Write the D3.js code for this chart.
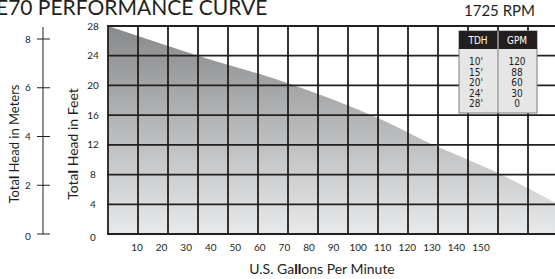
<!DOCTYPE html>
<html>
<head>
<meta charset="utf-8">
<script src="https://cdn.jsdelivr.net/npm/d3@7"></script>
<style>
  body { margin: 0; background: #fff; }
  svg { display: block; font-family: Lato, "Open Sans", sans-serif; }
</style>
</head>
<body>
<div id="chart"></div>
<script>
// curve (GPM -> feet of head)
var curveGpm  = [0, 30, 60, 90, 110, 120, 130, 150];
var curveHead = [28, 24, 20.3, 15.6, 11.7, 10, 8.2, 4.0];

// table in the corner
var tdh = ["10'", "15'", "20'", "24'", "28'"];
var gpm = ["120", "88", "60", "30", "0"];

var feetTicks = [0, 4, 8, 12, 16, 20, 24, 28];
var meterTicks = [0, 2, 4, 6, 8];
var gpmLabels = [10, 20, 30, 40, 50, 60, 70, 80, 90, 100, 110, 120, 130, 140, 150];
var gridGpm = d3.range(0, 151, 10);

var w = 555, h = 279;

var svg = d3.select("#chart").append("svg")
  .attr("width", w)
  .attr("height", h);

var x = d3.scaleLinear().domain([0, 150]).range([108, 558]);
var y = d3.scaleLinear().domain([0, 28]).range([234, 26]);
// the printed gpm labels sit on their own, tighter spacing
var xLab = d3.scaleLinear().domain([10, 150]).range([137, 481]);
// meters share the feet scale
var yM = function(m) { return y(m * 3.2808); };

var defs = svg.append("defs");
var grad = defs.append("linearGradient")
  .attr("id", "fillGrad")
  .attr("x1", 0).attr("y1", 0).attr("x2", 0).attr("y2", 1);
grad.append("stop").attr("offset", "0%").attr("stop-color", "#88898b");
grad.append("stop").attr("offset", "100%").attr("stop-color", "#e8e9ea");

var pts = curveGpm.map(function(d, i) { return [d, curveHead[i]]; });

var area = d3.area()
  .x(function(d) { return x(d[0]); })
  .y0(y(0))
  .y1(function(d) { return y(d[1]); })
  .curve(d3.curveMonotoneX);

svg.append("path")
  .datum(pts)
  .attr("d", area)
  .attr("fill", "url(#fillGrad)");

//grid
svg.append("g").selectAll("line")
  .data(gridGpm)
  .enter()
  .append("line")
  .attr("x1", function(d) { return x(d); })
  .attr("x2", function(d) { return x(d); })
  .attr("y1", y(28))
  .attr("y2", y(0))
  .attr("stroke", "#231f20")
  .attr("stroke-width", 1.8);

svg.append("g").selectAll("line")
  .data(feetTicks)
  .enter()
  .append("line")
  .attr("x1", x(0) - 0.9)
  .attr("x2", x(150))
  .attr("y1", function(d) { return y(d); })
  .attr("y2", function(d) { return y(d); })
  .attr("stroke", "#231f20")
  .attr("stroke-width", 1.8);

// feet labels
svg.append("g").selectAll("text")
  .data(feetTicks)
  .enter()
  .append("text")
  .attr("x", 93)
  .attr("y", function(d) { return d === 0 ? y(d) + 3 : y(d); })
  .attr("dy", "0.35em")
  .attr("text-anchor", "middle")
  .attr("font-size", 10)
  .attr("fill", "#231f20")
  .text(function(d) { return d; });

// gpm labels
svg.append("g").selectAll("text")
  .data(gpmLabels)
  .enter()
  .append("text")
  .attr("x", function(d) { return xLab(d); })
  .attr("y", 251)
  .attr("text-anchor", "middle")
  .attr("font-size", 10)
  .attr("fill", "#231f20")
  .text(function(d) { return d; });

// meters axis
var mAxis = svg.append("g");
mAxis.append("line")
  .attr("x1", 43).attr("x2", 43)
  .attr("y1", 27).attr("y2", yM(0))
  .attr("stroke", "#231f20")
  .attr("stroke-width", 1);
mAxis.selectAll(".tk")
  .data(meterTicks)
  .enter()
  .append("line")
  .attr("class", "tk")
  .attr("x1", 37).attr("x2", 50)
  .attr("y1", function(d) { return yM(d); })
  .attr("y2", function(d) { return yM(d); })
  .attr("stroke", "#231f20")
  .attr("stroke-width", 1);
mAxis.selectAll("text")
  .data(meterTicks)
  .enter()
  .append("text")
  .attr("x", 28)
  .attr("y", function(d) { return d === 0 ? yM(d) + 2 : yM(d); })
  .attr("dy", "0.35em")
  .attr("text-anchor", "middle")
  .attr("font-size", 10)
  .attr("fill", "#231f20")
  .text(function(d) { return d; });

// axis titles, with the heavy "l" of the original
function boldL(sel, before, bold, after) {
  sel.append("tspan").text(before);
  sel.append("tspan").attr("font-weight", "900").text(bold);
  sel.append("tspan").text(after);
}

var tM = svg.append("text")
  .attr("transform", "translate(19,144) rotate(-90)")
  .attr("text-anchor", "middle")
  .attr("font-size", 13)
  .attr("fill", "#231f20");
boldL(tM, "Tota", "l", " Head in Meters");

var tF = svg.append("text")
  .attr("transform", "translate(78,144) rotate(-90)")
  .attr("text-anchor", "middle")
  .attr("font-size", 14)
  .attr("fill", "#231f20");
boldL(tF, "Tota", "l", " Head in Feet");

var tX = svg.append("text")
  .attr("x", 322)
  .attr("y", 274)
  .attr("text-anchor", "middle")
  .attr("font-size", 14)
  .attr("fill", "#231f20");
boldL(tX, "U.S. Ga", "ll", "ons Per Minute");

// title (cut at the left edge, as in the source)
svg.append("text")
  .attr("x", -4)
  .attr("y", 15)
  .attr("font-size", 21)
  .attr("fill", "#231f20")
  .text("E70 PERFORMANCE CURVE");

svg.append("text")
  .attr("x", 535)
  .attr("y", 16)
  .attr("text-anchor", "end")
  .attr("font-size", 15)
  .attr("fill", "#231f20")
  .text("1725 RPM");

// tdh / gpm table
var tbl = svg.append("g").attr("font-family", "'Liberation Sans Narrow', 'DejaVu Sans Condensed', sans-serif");
var tx0 = 459, tx1 = 537, tMid = 498, ty0 = 31, tHead = 49, ty1 = 113;

tbl.append("rect")
  .attr("x", tx0).attr("y", ty0)
  .attr("width", tx1 - tx0).attr("height", ty1 - ty0)
  .attr("fill", "#e6e6e7")
  .attr("stroke", "#7d7d7f")
  .attr("stroke-width", 1);
tbl.append("rect")
  .attr("x", tx0).attr("y", ty0)
  .attr("width", tMid - tx0 - 0.5).attr("height", tHead - ty0)
  .attr("fill", "#231f20");
tbl.append("rect")
  .attr("x", tMid + 0.5).attr("y", ty0)
  .attr("width", tx1 - tMid - 0.5).attr("height", tHead - ty0)
  .attr("fill", "#231f20");
tbl.append("line")
  .attr("x1", tMid).attr("x2", tMid)
  .attr("y1", tHead).attr("y2", ty1)
  .attr("stroke", "#7d7d7f")
  .attr("stroke-width", 1);

tbl.selectAll(".hd")
  .data(["TDH", "GPM"])
  .enter()
  .append("text")
  .attr("class", "hd")
  .attr("x", function(d, i) { return i === 0 ? 478 : 517; })
  .attr("y", 44)
  .attr("text-anchor", "middle")
  .attr("font-size", 10)
  .attr("fill", "#fff")
  .text(function(d) { return d; });

var rowY = d3.scaleLinear().domain([0, 4]).range([65, 107]);

tbl.selectAll(".tdh")
  .data(tdh)
  .enter()
  .append("text")
  .attr("class", "tdh")
  .attr("x", 476)
  .attr("y", function(d, i) { return rowY(i); })
  .attr("text-anchor", "middle")
  .attr("font-size", 10)
  .attr("fill", "#231f20")
  .text(function(d) { return d; });

tbl.selectAll(".gpm")
  .data(gpm)
  .enter()
  .append("text")
  .attr("class", "gpm")
  .attr("x", 517)
  .attr("y", function(d, i) { return rowY(i); })
  .attr("text-anchor", "middle")
  .attr("font-size", 10)
  .attr("fill", "#231f20")
  .text(function(d) { return d; });
</script>
</body>
</html>
